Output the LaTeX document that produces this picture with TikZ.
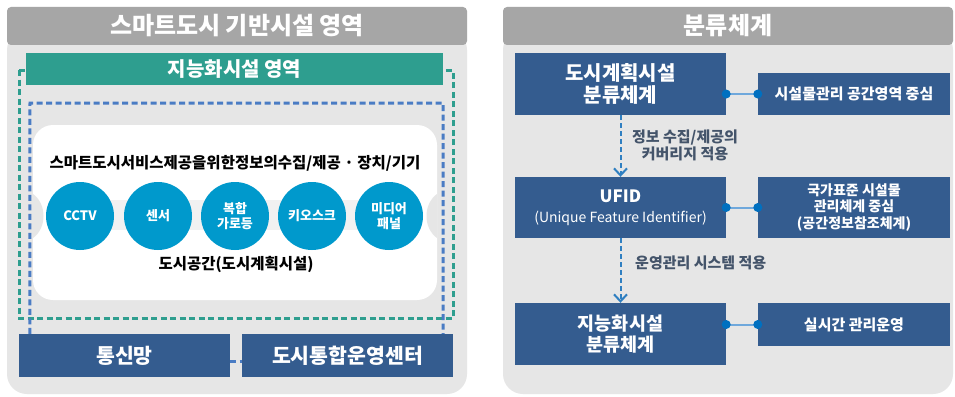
\documentclass[tikz,border=0pt]{standalone}
\usepackage{fontspec}
\setmainfont{Noto Sans CJK KR}
\usetikzlibrary{arrows.meta,calc}
\definecolor{hdr}{HTML}{A6A6A6}
\definecolor{panel}{HTML}{E6E6E6}
\definecolor{tealc}{HTML}{2E9E8F}
\definecolor{navy}{HTML}{345C8F}
\definecolor{cyanc}{HTML}{0099CC}
\definecolor{dotc}{HTML}{0070C0}
\definecolor{linkc}{HTML}{6FA8DC}
\definecolor{lblc}{HTML}{44546A}
\definecolor{dashblue}{HTML}{4A7CC4}
\definecolor{dashgreen}{HTML}{2E9E8F}
\definecolor{arrc}{HTML}{2F7FC1}
\tikzset{
  hdrbox/.style={fill=hdr, rounded corners=4pt, text=white, font=\fontsize{24}{27}\selectfont\bfseries, inner sep=0pt},
  navybox/.style={fill=navy, text=white, align=center, inner sep=0pt, font=\fontsize{20}{22}\selectfont\bfseries},
  smallbox/.style={fill=navy, text=white, align=center, inner sep=0pt, font=\fontsize{15}{17}\selectfont\bfseries},
  circ/.style={circle, fill=cyanc, minimum size=68pt, inner sep=0pt, text=white, align=center, font=\fontsize{13}{15}\selectfont\bfseries},
  dotend/.style={circle, fill=dotc, minimum size=9pt, inner sep=0pt},
  link/.style={linkc, line width=2pt},
  flow/.style={arrc, line width=2pt, dash pattern=on 5pt off 3pt, -{Straight Barb[length=7pt,width=13pt,line width=2pt]}},
  lbl/.style={text=lblc, align=center, font=\fontsize{15}{17}\selectfont\bfseries, inner sep=0pt},
  gdash/.style={dashgreen, line width=3pt, dash pattern=on 6pt off 3.5pt},
  bdash/.style={dashblue, line width=3pt, dash pattern=on 6pt off 3.5pt}
}
\begin{document}
\begin{tikzpicture}[x=1pt,y=-1pt]
\useasboundingbox (0,0) rectangle (955,396);
\fill[white] (0,0) rectangle (955,396);
% ---------------- left panel ----------------
\fill[panel, rounded corners=20pt] (7,30) rectangle (467,394);
\node[hdrbox, minimum width=460pt, minimum height=38pt] (lh) at (237,26) {스마트도시 기반시설 영역};
% green dashed region
\draw[gdash] (19,70) rectangle (453,318);
\node[fill=tealc, text=white, minimum width=417pt, minimum height=32pt, inner sep=0pt, font=\fontsize{20}{22}\selectfont\bfseries] (gbar) at (234.5,69) {지능화시설 영역};
% bottom boxes
\node[navybox, minimum width=211pt, minimum height=43pt, font=\fontsize{20.5}{23}\selectfont\bfseries] (tong) at (124.5,355.5) {통신망};
\node[navybox, minimum width=211pt, minimum height=43pt, font=\fontsize{20.5}{23}\selectfont\bfseries] (ctr) at (347.5,355.5) {도시통합운영센터};
% blue dashed region
\coordinate (bl) at ($(tong.north west)+(11,0)$);
\coordinate (br) at ($(ctr.north east)+(-10,0)$);
\draw[bdash] (bl) -- (30,103) -- (443,103) -- (br);
\draw[bdash] ([yshift=-6pt]tong.east) -- ([yshift=-6pt]ctr.west);
% white area
\fill[white, rounded corners=20pt] (33,125) rectangle (437,300);
\fill[panel] (33,194) .. controls (47,204) and (47,228) .. (33,238) -- cycle;
\fill[panel] (437,194) .. controls (423,204) and (423,228) .. (437,238) -- cycle;
\fill[panel!55] (80,200) rectangle (389,230);
\node[font=\fontsize{15.5}{17}\selectfont\bfseries, inner sep=0pt] (ttl) at (235,163) {스마트도시서비스제공을위한정보의수집/제공 · 장치/기기};
\node[circ] (c1) at (80,216) {CCTV};
\node[circ] (c2) at (158,216) {센서};
\node[circ] (c3) at (235,216) {복합\\가로등};
\node[circ] (c4) at (312,216) {키오스크};
\node[circ] (c5) at (389,216) {미디어\\패널};
\node[font=\fontsize{15.5}{17}\selectfont\bfseries, inner sep=0pt] (space) at (236,264) {도시공간(도시계획시설)};
% ---------------- right panel ----------------
\fill[panel, rounded corners=20pt] (503,30) rectangle (953,394);
\node[hdrbox, minimum width=450pt, minimum height=38pt] (rh) at (728,26) {분류체계};
\node[navybox, minimum width=211pt, minimum height=62pt] (A) at (620.5,84) {도시계획시설\\분류체계};
\node[smallbox, minimum width=192pt, minimum height=42pt] (B) at (854,94) {시설물관리 공간영역 중심};
\node[navybox, minimum width=211pt, minimum height=61pt, font=\fontsize{17}{20}\selectfont\bfseries] (C) at (620.5,207.5) {UFID\\{\fontsize{14}{16}\selectfont\mdseries (Unique Feature Identifier)}};
\node[smallbox, minimum width=192pt, minimum height=61pt, font=\fontsize{14}{16.5}\selectfont\bfseries] (D) at (854,207.5) {국가표준 시설물\\관리체계 중심\\(공간정보참조체계)};
\node[navybox, minimum width=211pt, minimum height=62pt, font=\fontsize{18.5}{21}\selectfont\bfseries] (E) at (620.5,334) {지능화시설\\분류체계};
\node[smallbox, minimum width=192pt, minimum height=43pt] (F) at (854,324.5) {실시간 관리운영};
% links
\draw[link] (A.east |- B.west) -- (B.west);
\node[dotend] (d1) at (A.east |- B.west) {};
\node[dotend] (d2) at (B.west) {};
\draw[link] (C.east) -- (D.west);
\node[dotend] (d3) at (C.east) {};
\node[dotend] (d4) at (D.west) {};
\draw[link] (E.east |- F.west) -- (F.west);
\node[dotend] (d5) at (E.east |- F.west) {};
\node[dotend] (d6) at (F.west) {};
% flows
\draw[flow] (A.south) -- (C.north);
\draw[flow] (C.south) -- (E.north);
\node[lbl] (l1) at (685,145) {정보 수집/제공의\\커버리지 적용};
\node[lbl, anchor=west] (l2) at (635,263) {운영관리 시스템 적용};
\end{tikzpicture}
\end{document}
